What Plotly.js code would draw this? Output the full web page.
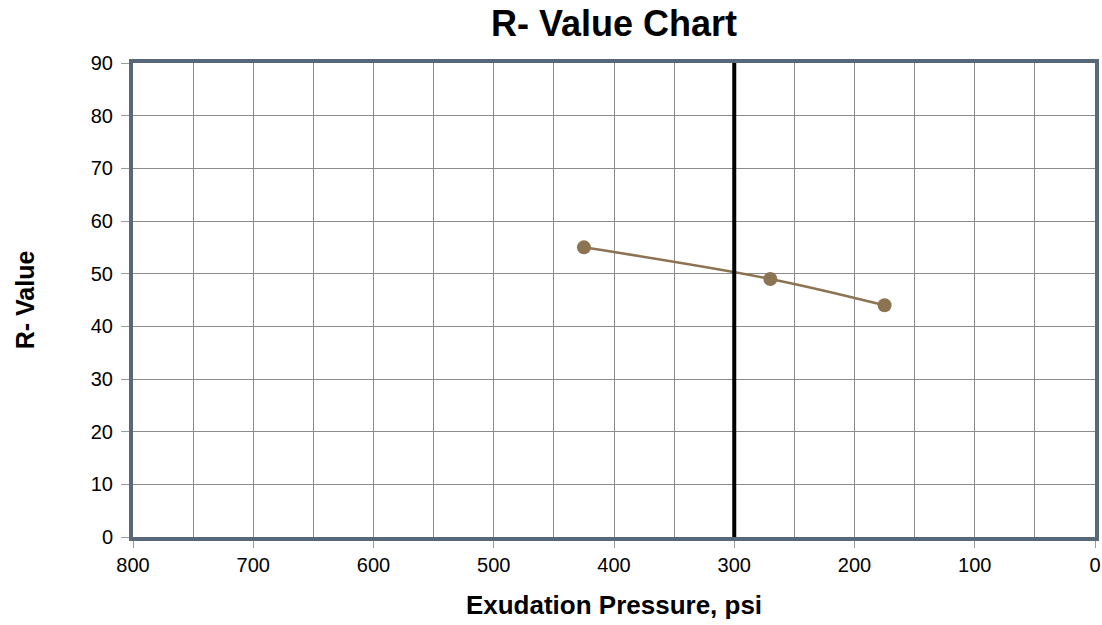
<!DOCTYPE html>
<html><head><meta charset="utf-8">
<script src="https://cdn.plot.ly/plotly-3.0.1.min.js"></script>
<style>html,body{margin:0;padding:0;background:#fff}#chart{width:1102px;height:625px}</style>
</head><body><div id="chart"></div>
<script>
const exudationPressure = [425, 270, 175];
const rValue = [55, 49, 44];
const referencePressure = 300;
const xTickVals = [800, 700, 600, 500, 400, 300, 200, 100, 0];
const yTickVals = [0, 10, 20, 30, 40, 50, 60, 70, 80, 90];

const font = 'Liberation Sans, Arial, sans-serif';
const trace = {
  x: exudationPressure, y: rValue, type: 'scatter', mode: 'lines+markers',
  line: {color: '#8c7352', width: 2.5, shape: 'spline'},
  marker: {color: '#8c7352', size: 14},
  showlegend: false, hoverinfo: 'x+y'
};
const layout = {
  width: 1102, height: 625,
  margin: {l: 133, r: 7, t: 63, b: 88},
  paper_bgcolor: '#fff', plot_bgcolor: '#fff',
  title: {text: '<b>R- Value Chart</b>', font: {family: font, size: 36, color: '#000'}, xref: 'paper', x: 0.5, xanchor: 'center', yref: 'container', y: 0.963, yanchor: 'middle'},
  xaxis: {
    range: [800, 0], tickvals: xTickVals, ticktext: xTickVals.map(String),
    showgrid: true, gridcolor: '#8c8c8c', gridwidth: 1,
    minor: {dtick: 50, tick0: 0, showgrid: true, gridcolor: '#8c8c8c', gridwidth: 1, ticks: ''},
    ticks: 'outside', ticklen: 7, tickcolor: '#9a9a9a', tickwidth: 1,
    showline: true, mirror: true, linecolor: '#586878', linewidth: 4,
    zeroline: false,
    tickfont: {family: font, size: 20, color: '#000'},
    title: {text: '<b>Exudation Pressure, psi</b>', font: {family: font, size: 26, color: '#000'}, standoff: 22}
  },
  yaxis: {
    range: [0, 90], tickvals: yTickVals,
    showgrid: true, gridcolor: '#8c8c8c', gridwidth: 1,
    ticks: 'outside', ticklen: 8, tickcolor: '#9a9a9a', tickwidth: 1,
    ticklabelstandoff: 4,
    showline: true, mirror: true, linecolor: '#586878', linewidth: 4,
    zeroline: false,
    tickfont: {family: font, size: 20, color: '#000'},
    title: {text: '<b>R- Value</b>', font: {family: font, size: 25, color: '#000'}, standoff: 50}
  },
  shapes: [{type: 'line', xref: 'x', yref: 'y', x0: referencePressure, x1: referencePressure, y0: 0, y1: 90, line: {color: '#000', width: 4}, layer: 'above'}]
};
Plotly.newPlot('chart', [trace], layout, {displayModeBar: false, staticPlot: true});
</script></body></html>
